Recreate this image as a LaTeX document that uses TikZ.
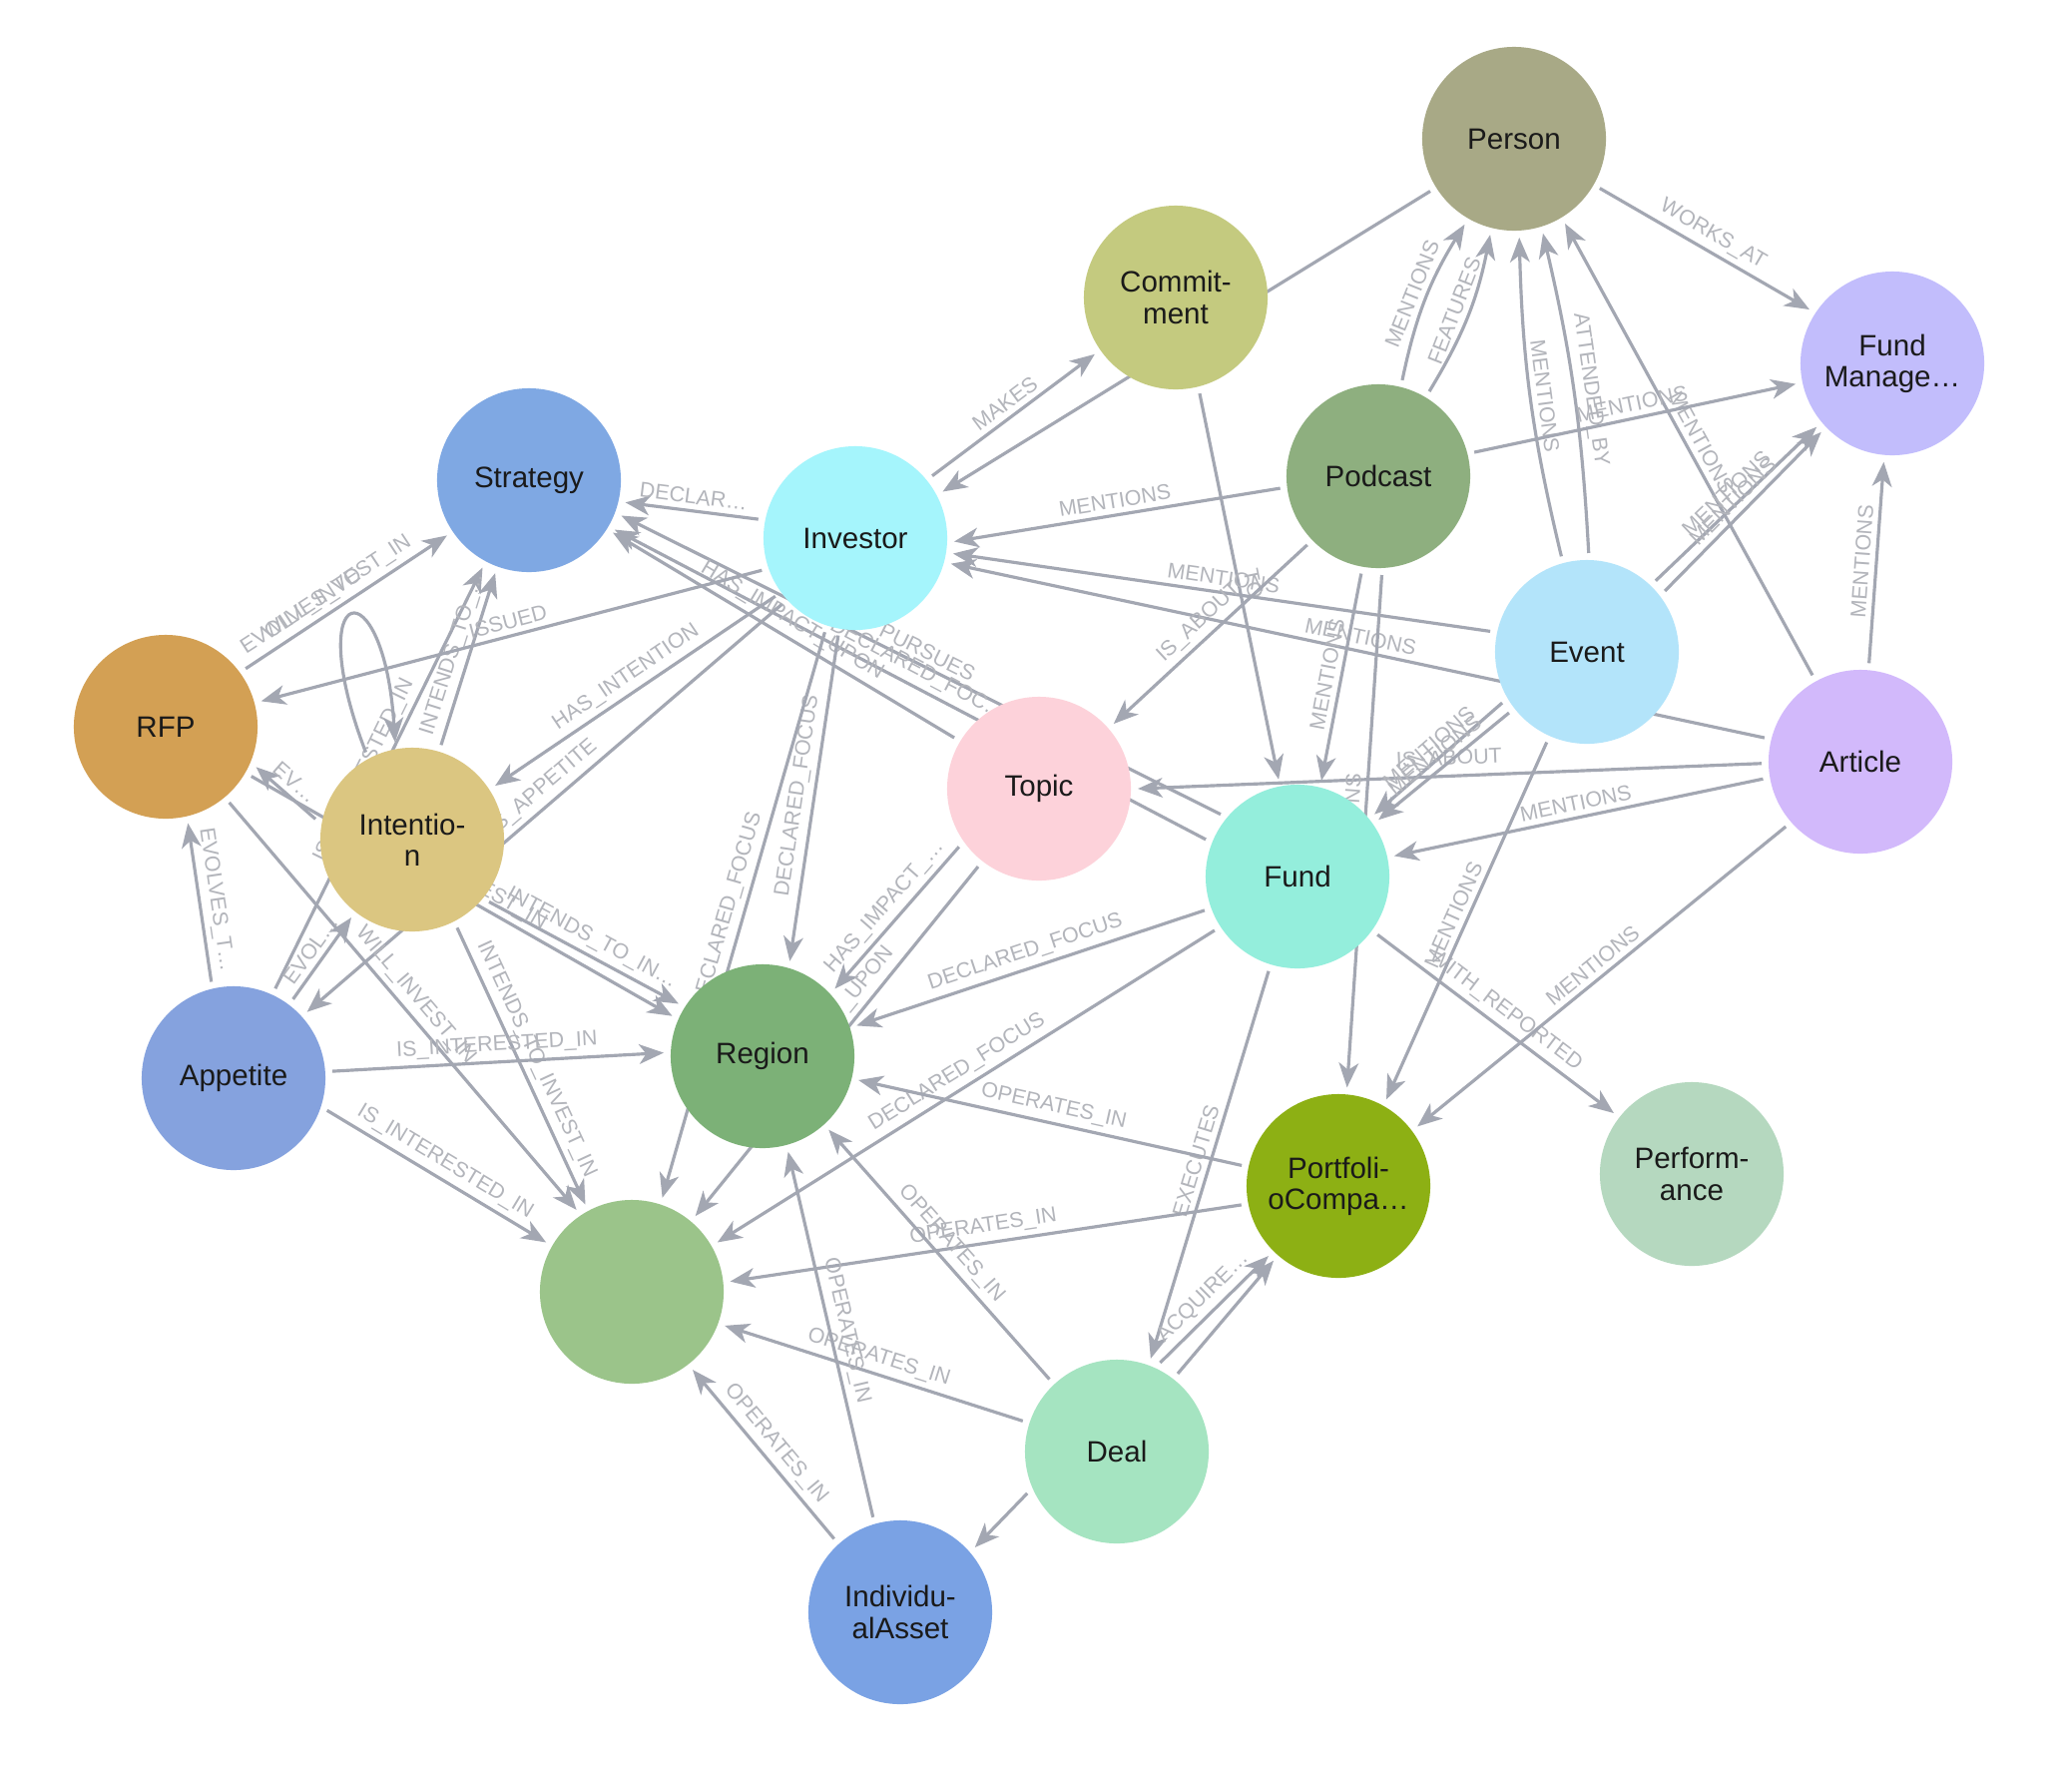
\documentclass[tikz,border=0pt]{standalone}
\usepackage{fontspec}
\setmainfont{Liberation Sans}
\usetikzlibrary{arrows.meta,backgrounds}
\definecolor{edgec}{HTML}{A3A7B2}
\definecolor{labc}{HTML}{B3B5BB}
\definecolor{txtc}{HTML}{1A1A1A}
\definecolor{cP}{HTML}{A8A986}
\definecolor{cC}{HTML}{C4CA7F}
\definecolor{cFM}{HTML}{C2BDFC}
\definecolor{cS}{HTML}{7FA8E3}
\definecolor{cI}{HTML}{A5F5FC}
\definecolor{cPod}{HTML}{8EAF7F}
\definecolor{cE}{HTML}{B3E4FA}
\definecolor{cA}{HTML}{D2B9FB}
\definecolor{cR}{HTML}{D3A054}
\definecolor{cIn}{HTML}{DBC681}
\definecolor{cT}{HTML}{FDD2DA}
\definecolor{cF}{HTML}{94EEDC}
\definecolor{cRg}{HTML}{7CB177}
\definecolor{cAp}{HTML}{85A2DE}
\definecolor{cPC}{HTML}{8DB014}
\definecolor{cPf}{HTML}{B5D8BF}
\definecolor{cB}{HTML}{9BC48A}
\definecolor{cD}{HTML}{A5E4C1}
\definecolor{cIA}{HTML}{7AA2E4}
\begin{document}
\begin{tikzpicture}[x=0.01cm,y=-0.01cm,
  nd/.style={circle,minimum size=1.84cm,inner sep=0pt,outer sep=2pt,font=\fontsize{8.4}{8.9}\selectfont,text=txtc,align=center},
  ed/.style={draw=edgec,line width=0.9pt,-{Stealth[length=7pt,width=5.6pt,inset=2pt]}},
  pl/.style={draw=edgec,line width=0.9pt},
  lb/.style={font=\fontsize{6.1}{7}\selectfont,text=labc,sloped,midway,above,inner sep=1.5pt}]
\useasboundingbox (0,0) rectangle (2076,1769);
% nodes
\node[nd,fill=cP] (P) at (1517,139) {Person};
\node[nd,fill=cC] (C) at (1178,298) {Commit-\\ment};
\node[nd,fill=cFM] (FM) at (1896,364) {Fund\\Manage…};
\node[nd,fill=cS] (S) at (530,481) {Strategy};
\node[nd,fill=cI] (I) at (857,539) {Investor};
\node[nd,fill=cPod] (Pod) at (1381,477) {Podcast};
\node[nd,fill=cE] (E) at (1590,653) {Event};
\node[nd,fill=cA] (A) at (1864,763) {Article};
\node[nd,fill=cR] (R) at (166,728) {RFP};
\node[nd,fill=cIn] (In) at (413,841) {Intentio-\\n};
\node[nd,fill=cT] (T) at (1041,790) {Topic};
\node[nd,fill=cF] (F) at (1300,878) {Fund};
\node[nd,fill=cRg] (Rg) at (764,1058) {Region};
\node[nd,fill=cAp] (Ap) at (234,1080) {Appetite};
\node[nd,fill=cPC] (PC) at (1341,1188) {Portfoli-\\oCompa…};
\node[nd,fill=cPf] (Pf) at (1695,1176) {Perform-\\ance};
\node[nd,fill=cB] (B) at (633,1294) {};
\node[nd,fill=cD] (D) at (1119,1454) {Deal};
\node[nd,fill=cIA] (IA) at (902,1615) {Individu-\\alAsset};
\begin{pgfonlayer}{background}
\fill[white] (0,0) rectangle (2076,1769);
% Person area
\draw[ed] (P.-30) -- node[lb]{WORKS\_AT} (FM.147);
\draw[ed] (P.212) -- (I.28);
\draw[ed] (I.39) -- node[lb]{MAKES} (C.215);
\draw[ed] (C.-76) -- node[lb]{TO} (F.101);
\draw[ed] (Pod.76) to[bend left=10] node[lb]{MENTIONS} (P.240);
\draw[ed] (Pod.59) to[bend right=10] node[lb]{FEATURES} (P.256);
\draw[ed] (E.105) to[bend left=6] node[lb]{MENTIONS} (P.-87);
\draw[ed] (E.89) to[bend right=5] node[lb]{ATTENDED\_BY} (P.-73);
\draw[ed] (A.119) -- node[lb]{MENTIONS} (P.-59);
% Fund manager
\draw[ed] (Pod.14) -- node[lb]{MENTIONS} (FM.192);
\draw[ed] (E.46) -- node[lb]{MENTIONS} (FM.220);
\draw[ed] (E.38) -- node[lb]{MENTIONS} (FM.224);
\draw[ed] (A.85) -- node[lb]{MENTIONS} (FM.-95);
% Investor incoming
\draw[ed] (Pod.187) -- node[lb]{MENTIONS} (I.-2);
\draw[ed] (E.168) -- node[lb]{MENTIONS} (I.-9);
\draw[ed] (A.166) -- node[lb]{MENTIONS} (I.-15);
% Strategy incoming
\draw[ed] (I.169) -- node[lb]{DECLAR…} (S.-13);
\draw[ed] (F.141) -- node[lb]{PURSUES} (S.-21);
\draw[ed] (F.158) -- node[lb]{DECLARED\_FOC…} (S.-30);
\draw[ed] (T.149) -- node[lb]{HAS\_IMPACT\_UPON} (S.-32);
\draw[ed] (R.36) -- node[lb]{WILL\_INVEST\_IN} (S.214);
\draw[ed] (Ap.65) -- node[lb]{IS\_INTERESTED\_IN} (S.242);
\draw[ed] (In.73) -- node[lb]{INTENDS\_TO\_…} (S.250);
% Topic
\draw[ed] (T.216) -- node[lb]{HAS\_IMPACT\_…} (Rg.43);
\draw[ed] (T.232) -- node[lb]{HAS\_IMPACT\_UPON} (B.50);
\draw[ed] (Pod.224) -- node[lb]{IS\_ABOUT} (T.41);
\draw[ed] (A.181) -- node[lb]{IS\_ABOUT} (T.0);
% Investor outgoing
\draw[ed] (I.-100) -- node[lb]{DECLARED\_FOCUS} (Rg.74);
\draw[ed] (I.-108) -- node[lb]{DECLARED\_FOCUS} (B.72);
\draw[ed] (I.216) -- node[lb]{HAS\_INTENTION} (In.33);
\draw[ed] (I.222) -- node[lb]{HAS\_APPETITE} (Ap.42);
\draw[ed] (I.199) -- node[lb]{ISSUED} (R.15);
% Intention loop and RFP
\draw[ed] (In.118) .. controls (300,580) and (385,565) .. node[font=\fontsize{6.1}{7}\selectfont,text=labc,pos=0.5,rotate=33,shift={(-40,-30)}]{EVOLVES\_TO} (In.100);
\draw[ed] (In.168) -- node[lb]{EV…} (R.-24);
\draw[ed] (R.-30) -- node[lb]{WILL\_INVEST\_IN} (Rg.156);
\draw[ed] (R.-50) -- node[lb]{WILL\_INVEST\_IN} (B.124);
\draw[ed] (In.-63) -- node[lb]{INTENDS\_TO\_INVEST\_IN} (B.118);
\draw[ed] (In.-39) -- node[lb]{INTENDS\_TO\_IN…} (Rg.148);
% Appetite
\draw[ed] (Ap.103) -- node[lb]{EVOLVES\_T…} (R.-77);
\draw[ed] (Ap.53) -- node[lb]{EVOL…} (In.232);
\draw[ed] (Ap.4) -- node[lb]{IS\_INTERESTED\_IN} (Rg.178);
\draw[ed] (Ap.-19) -- node[lb]{IS\_INTERESTED\_IN} (B.150);
% Fund outgoing
\draw[ed] (F.200) -- node[lb]{DECLARED\_FOCUS} (Rg.18);
\draw[ed] (F.213) -- node[lb]{DECLARED\_FOCUS} (B.30);
\draw[ed] (F.253) -- node[lb]{EXECUTES} (D.70);
\draw[ed] (F.-36) -- node[lb]{WITH\_REPORTED} (Pf.142);
% Fund / PortfolioCompany incoming
\draw[ed] (Pod.-88) -- node[lb]{MENTIONS} (PC.85);
\draw[ed] (Pod.-100) -- node[lb]{MENTIONS} (F.76);
\draw[ed] (E.211) -- node[lb]{MENTIONS} (F.39);
\draw[ed] (E.218) -- node[lb]{MENTIONS} (F.35);
\draw[ed] (A.190) -- node[lb]{MENTIONS} (F.12);
\draw[ed] (E.246) -- node[lb]{MENTIONS} (PC.61);
\draw[ed] (A.221) -- node[lb]{MENTIONS} (PC.37);
% OPERATES_IN
\draw[ed] (PC.168) -- node[lb]{OPERATES\_IN} (Rg.-14);
\draw[ed] (PC.191) -- node[lb]{OPERATES\_IN} (B.6);
\draw[ed] (D.133) -- node[lb]{OPERATES\_IN} (Rg.-48);
\draw[ed] (D.162) -- node[lb]{OPERATES\_IN} (B.-20);
\draw[ed] (IA.106) -- node[lb]{OPERATES\_IN} (Rg.-75);
\draw[ed] (IA.132) -- node[lb]{OPERATES\_IN} (B.-52);
% Deal
\draw[ed] (D.205) -- (IA.41);
\draw[ed] (D.64) -- node[lb]{ACQUIRE…} (PC.225);
\draw[ed] (D.52) -- (PC.229);
\end{pgfonlayer}
\end{tikzpicture}
\end{document}
